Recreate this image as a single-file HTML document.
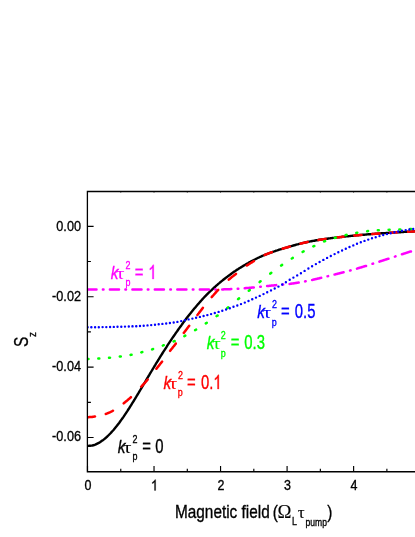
<!DOCTYPE html>
<html><head><meta charset="utf-8"><title>chart</title>
<style>html,body{margin:0;padding:0;background:#fff}svg{display:block}</style></head>
<body>
<svg width="415" height="537" viewBox="0 0 415 537">
<rect width="415" height="537" fill="#fff"/>
<defs><filter id="bl" x="-5%" y="-5%" width="110%" height="110%"><feGaussianBlur stdDeviation="0.5"/></filter></defs>
<g filter="url(#bl)">
<clipPath id="cp"><rect x="87.4" y="191" width="340" height="281"/></clipPath>
<g id="curves" clip-path="url(#cp)">
<path d="M86.3,446.0 L87.3,445.9 L88.3,445.9 L89.3,445.8 L90.3,445.7 L91.3,445.6 L92.3,445.5 L93.3,445.3 L94.3,445.0 L95.3,444.6 L96.3,444.1 L97.3,443.6 L98.3,443.1 L99.3,442.6 L100.3,442.0 L101.3,441.3 L102.3,440.6 L103.3,439.9 L104.3,439.1 L105.3,438.3 L106.3,437.4 L107.3,436.5 L108.3,435.5 L109.3,434.5 L110.3,433.5 L111.3,432.4 L112.3,431.3 L113.3,430.2 L114.3,429.0 L115.3,427.8 L116.3,426.6 L117.3,425.3 L118.3,424.0 L119.3,422.7 L120.3,421.3 L121.3,419.9 L122.3,418.5 L123.3,417.1 L124.3,415.6 L125.3,414.1 L126.3,412.6 L127.3,411.1 L128.3,409.5 L129.3,408.0 L130.3,406.4 L131.3,404.8 L132.3,403.2 L133.3,401.6 L134.3,400.0 L135.3,398.3 L136.3,396.7 L137.3,395.0 L138.3,393.4 L139.3,391.7 L140.3,390.0 L141.3,388.3 L142.3,386.7 L143.3,385.0 L144.3,383.3 L145.3,381.6 L146.3,379.9 L147.3,378.2 L148.3,376.5 L149.3,374.9 L150.3,373.2 L151.3,371.5 L152.3,369.8 L153.3,368.2 L154.3,366.5 L155.3,364.9 L156.3,363.2 L157.3,361.6 L158.3,360.0 L159.3,358.3 L160.3,356.7 L161.3,355.1 L162.3,353.5 L163.3,351.9 L164.3,350.4 L165.3,348.8 L166.3,347.3 L167.3,345.7 L168.3,344.2 L169.3,342.7 L170.3,341.2 L171.3,339.7 L172.3,338.2 L173.3,336.7 L174.3,335.3 L175.3,333.8 L176.3,332.4 L177.3,331.0 L178.3,329.5 L179.3,328.1 L180.3,326.7 L181.3,325.4 L182.3,324.0 L183.3,322.6 L184.3,321.3 L185.3,319.9 L186.3,318.6 L187.3,317.3 L188.3,316.0 L189.3,314.7 L190.3,313.5 L191.3,312.2 L192.3,311.0 L193.3,309.8 L194.3,308.6 L195.3,307.4 L196.3,306.2 L197.3,305.0 L198.3,303.9 L199.3,302.7 L200.3,301.6 L201.3,300.5 L202.3,299.4 L203.3,298.3 L204.3,297.2 L205.3,296.2 L206.3,295.1 L207.3,294.1 L208.3,293.1 L209.3,292.2 L210.3,291.2 L211.3,290.3 L212.3,289.3 L213.3,288.4 L214.3,287.5 L215.3,286.6 L216.3,285.7 L217.3,284.8 L218.3,283.9 L219.3,283.1 L220.3,282.2 L221.3,281.4 L222.3,280.6 L223.3,279.8 L224.3,279.0 L225.3,278.2 L226.3,277.4 L227.3,276.7 L228.3,275.9 L229.3,275.2 L230.3,274.5 L231.3,273.7 L232.3,273.0 L233.3,272.3 L234.3,271.6 L235.3,271.0 L236.3,270.3 L237.3,269.6 L238.3,269.0 L239.3,268.3 L240.3,267.7 L241.3,267.1 L242.3,266.5 L243.3,265.9 L244.3,265.3 L245.3,264.7 L246.3,264.1 L247.3,263.5 L248.3,263.0 L249.3,262.4 L250.3,261.9 L251.3,261.3 L252.3,260.8 L253.3,260.3 L254.3,259.8 L255.3,259.3 L256.3,258.7 L257.3,258.2 L258.3,257.7 L259.3,257.3 L260.3,256.8 L261.3,256.4 L262.3,255.9 L263.3,255.5 L264.3,255.1 L265.3,254.7 L266.3,254.3 L267.3,253.9 L268.3,253.5 L269.3,253.2 L270.3,252.8 L271.3,252.4 L272.3,252.1 L273.3,251.7 L274.3,251.4 L275.3,251.0 L276.3,250.7 L277.3,250.4 L278.3,250.0 L279.3,249.7 L280.3,249.4 L281.3,249.1 L282.3,248.8 L283.3,248.5 L284.3,248.2 L285.3,247.9 L286.3,247.6 L287.3,247.3 L288.3,247.0 L289.3,246.7 L290.3,246.4 L291.3,246.1 L292.3,245.8 L293.3,245.5 L294.3,245.3 L295.3,245.0 L296.3,244.7 L297.3,244.4 L298.3,244.2 L299.3,243.9 L300.3,243.6 L301.3,243.4 L302.3,243.2 L303.3,242.9 L304.3,242.7 L305.3,242.5 L306.3,242.3 L307.3,242.0 L308.3,241.8 L309.3,241.6 L310.3,241.4 L311.3,241.2 L312.3,241.0 L313.3,240.9 L314.3,240.7 L315.3,240.5 L316.3,240.3 L317.3,240.2 L318.3,240.0 L319.3,239.8 L320.3,239.7 L321.3,239.5 L322.3,239.4 L323.3,239.2 L324.3,239.1 L325.3,238.9 L326.3,238.8 L327.3,238.7 L328.3,238.5 L329.3,238.4 L330.3,238.3 L331.3,238.1 L332.3,238.0 L333.3,237.9 L334.3,237.8 L335.3,237.6 L336.3,237.5 L337.3,237.4 L338.3,237.3 L339.3,237.2 L340.3,237.1 L341.3,237.0 L342.3,236.8 L343.3,236.7 L344.3,236.6 L345.3,236.5 L346.3,236.4 L347.3,236.3 L348.3,236.2 L349.3,236.1 L350.3,236.0 L351.3,235.9 L352.3,235.8 L353.3,235.7 L354.3,235.6 L355.3,235.5 L356.3,235.4 L357.3,235.3 L358.3,235.2 L359.3,235.1 L360.3,235.0 L361.3,234.9 L362.3,234.8 L363.3,234.8 L364.3,234.7 L365.3,234.6 L366.3,234.5 L367.3,234.4 L368.3,234.3 L369.3,234.3 L370.3,234.2 L371.3,234.1 L372.3,234.0 L373.3,233.9 L374.3,233.9 L375.3,233.8 L376.3,233.7 L377.3,233.6 L378.3,233.6 L379.3,233.5 L380.3,233.4 L381.3,233.3 L382.3,233.3 L383.3,233.2 L384.3,233.1 L385.3,233.1 L386.3,233.0 L387.3,232.9 L388.3,232.9 L389.3,232.8 L390.3,232.8 L391.3,232.7 L392.3,232.6 L393.3,232.6 L394.3,232.5 L395.3,232.4 L396.3,232.4 L397.3,232.3 L398.3,232.3 L399.3,232.2 L400.3,232.2 L401.3,232.1 L402.3,232.0 L403.3,232.0 L404.3,231.9 L405.3,231.9 L406.3,231.8 L407.3,231.8 L408.3,231.7 L409.3,231.7 L410.3,231.6 L411.3,231.6 L412.3,231.5 L413.3,231.5 L414.3,231.4 L415.3,231.4 L416.3,231.3 L417.3,231.3 L418.3,231.3 L419.3,231.2 L420.3,231.2 L421.3,231.1" fill="none" stroke="#000" stroke-width="2.40" stroke-linejoin="round"/>
<path d="M87.5,289.6 L87.8,289.6 L88.3,289.6 L88.8,289.6 L89.3,289.6 L89.8,289.6 L90.3,289.6 L90.8,289.6 L91.3,289.6 L91.8,289.6 L92.3,289.6 L92.8,289.6 L93.3,289.6 L93.8,289.6 L94.3,289.6 L94.8,289.6 L95.3,289.6 L95.8,289.6 L96.3,289.6 L96.5,289.6 M102.9,289.6 L103.3,289.6 L103.5,289.6 M109.9,289.6 L110.3,289.6 L110.8,289.6 L111.3,289.6 L111.8,289.6 L112.3,289.6 L112.8,289.6 L113.3,289.6 L113.8,289.6 L114.3,289.6 L114.8,289.6 L115.3,289.6 L115.8,289.6 L116.3,289.6 L116.8,289.6 L117.3,289.6 L117.8,289.6 L118.3,289.6 L118.8,289.6 L119.0,289.6 M125.4,289.6 L125.8,289.6 L126.0,289.6 M132.4,289.6 L132.8,289.6 L133.3,289.6 L133.8,289.6 L134.3,289.6 L134.8,289.6 L135.3,289.6 L135.8,289.6 L136.3,289.6 L136.8,289.6 L137.3,289.6 L137.8,289.6 L138.3,289.6 L138.8,289.6 L139.3,289.6 L139.8,289.6 L140.3,289.6 L140.8,289.6 L141.3,289.6 L141.5,289.6 M147.8,289.6 L148.3,289.6 L148.4,289.6 M154.8,289.6 L155.3,289.6 L155.8,289.6 L156.3,289.6 L156.8,289.6 L157.3,289.6 L157.8,289.6 L158.3,289.6 L158.8,289.6 L159.3,289.6 L159.8,289.6 L160.3,289.6 L160.8,289.6 L161.3,289.6 L161.8,289.6 L162.3,289.6 L162.8,289.6 L163.3,289.6 L163.8,289.6 L163.9,289.6 M170.3,289.6 L170.8,289.6 L170.9,289.6 M177.3,289.6 L177.3,289.6 L177.8,289.6 L178.3,289.6 L178.8,289.6 L179.3,289.6 L179.8,289.6 L180.3,289.6 L180.8,289.6 L181.3,289.6 L181.8,289.6 L182.3,289.6 L182.8,289.6 L183.3,289.6 L183.8,289.6 L184.3,289.6 L184.8,289.6 L185.3,289.6 L185.8,289.6 L186.3,289.6 L186.4,289.6 M192.8,289.6 L192.8,289.6 L193.3,289.6 L193.4,289.6 M199.8,289.6 L199.8,289.6 L200.3,289.6 L200.8,289.6 L201.3,289.6 L201.8,289.6 L202.3,289.6 L202.8,289.6 L203.3,289.6 L203.8,289.6 L204.3,289.6 L204.8,289.6 L205.3,289.6 L205.8,289.6 L206.3,289.6 L206.8,289.6 L207.3,289.6 L207.8,289.6 L208.3,289.6 L208.8,289.6 L208.9,289.6 M215.2,289.5 L215.3,289.5 L215.8,289.5 L215.8,289.5 M222.2,289.4 L222.3,289.4 L222.8,289.4 L223.3,289.4 L223.8,289.3 L224.3,289.3 L224.8,289.3 L225.3,289.3 L225.8,289.3 L226.3,289.3 L226.8,289.3 L227.3,289.3 L227.8,289.2 L228.3,289.2 L228.8,289.2 L229.3,289.2 L229.8,289.2 L230.3,289.2 L230.8,289.1 L231.3,289.1 L231.3,289.1 M237.7,288.8 L237.8,288.8 L238.3,288.8 M244.7,288.2 L244.8,288.2 L245.3,288.2 L245.8,288.1 L246.3,288.1 L246.8,288.1 L247.3,288.0 L247.8,288.0 L248.3,287.9 L248.8,287.9 L249.3,287.8 L249.8,287.8 L250.3,287.7 L250.8,287.7 L251.3,287.7 L251.8,287.6 L252.3,287.6 L252.8,287.5 L253.3,287.5 L253.8,287.4 M260.2,286.8 L260.3,286.8 L260.8,286.7 M267.1,286.0 L267.3,286.0 L267.8,286.0 L268.3,285.9 L268.8,285.9 L269.3,285.8 L269.8,285.8 L270.3,285.7 L270.8,285.7 L271.3,285.6 L271.8,285.6 L272.3,285.5 L272.8,285.5 L273.3,285.4 L273.8,285.4 L274.3,285.3 L274.8,285.3 L275.3,285.2 L275.8,285.2 L276.2,285.1 M282.6,284.6 L282.8,284.5 L283.2,284.5 M289.6,283.9 L289.8,283.9 L290.3,283.8 L290.8,283.8 L291.3,283.7 L291.8,283.6 L292.3,283.6 L292.8,283.5 L293.3,283.4 L293.8,283.3 L294.3,283.2 L294.8,283.2 L295.3,283.1 L295.8,283.0 L296.3,282.9 L296.8,282.8 L297.3,282.8 L297.8,282.7 L298.3,282.6 L298.7,282.5 M305.1,281.4 L305.3,281.3 L305.7,281.2 M312.1,279.9 L312.3,279.9 L312.8,279.8 L313.3,279.7 L313.8,279.5 L314.3,279.4 L314.8,279.3 L315.3,279.2 L315.8,279.1 L316.3,279.0 L316.8,278.9 L317.3,278.7 L317.8,278.6 L318.3,278.5 L318.8,278.4 L319.3,278.3 L319.8,278.1 L320.3,278.0 L320.8,277.9 L321.2,277.8 M327.5,276.2 L327.8,276.2 L328.1,276.1 M334.5,274.5 L334.8,274.5 L335.3,274.3 L335.8,274.2 L336.3,274.1 L336.8,274.0 L337.3,273.8 L337.8,273.7 L338.3,273.6 L338.8,273.5 L339.3,273.3 L339.8,273.2 L340.3,273.1 L340.8,272.9 L341.3,272.8 L341.8,272.7 L342.3,272.6 L342.8,272.4 L343.3,272.3 L343.6,272.2 M350.0,270.5 L350.3,270.5 L350.6,270.4 M357.0,268.6 L357.3,268.5 L357.8,268.3 L358.3,268.2 L358.8,268.0 L359.3,267.9 L359.8,267.7 L360.3,267.6 L360.8,267.5 L361.3,267.3 L361.8,267.2 L362.3,267.0 L362.8,266.9 L363.3,266.7 L363.8,266.5 L364.3,266.4 L364.8,266.2 L365.3,266.1 L365.8,265.9 L366.1,265.9 M372.5,263.8 L372.8,263.7 L373.1,263.6 M379.4,261.6 L379.8,261.4 L380.3,261.3 L380.8,261.1 L381.3,261.0 L381.8,260.8 L382.3,260.7 L382.8,260.5 L383.3,260.3 L383.8,260.2 L384.3,260.0 L384.8,259.9 L385.3,259.7 L385.8,259.5 L386.3,259.4 L386.8,259.2 L387.3,259.1 L387.8,258.9 L388.3,258.7 L388.5,258.7 M394.9,256.6 L395.3,256.5 L395.5,256.4 M401.9,254.3 L402.3,254.2 L402.8,254.0 L403.3,253.9 L403.8,253.7 L404.3,253.5 L404.8,253.4 L405.3,253.2 L405.8,253.1 L406.3,252.9 L406.8,252.7 L407.3,252.6 L407.8,252.4 L408.3,252.2 L408.8,252.1 L409.3,251.9 L409.8,251.7 L410.3,251.6 L410.8,251.4 L411.0,251.4 M417.4,249.2 L417.8,249.1 L418.0,249.0" fill="none" stroke="#ff00ff" stroke-width="2.50" stroke-linecap="round" stroke-linejoin="round"/>
<path d="M87.8,417.2 L88.3,417.2 L88.8,417.2 L89.3,417.1 L89.8,417.1 L90.3,417.1 L90.8,417.0 L91.3,417.0 L91.8,416.9 L92.3,416.9 L92.8,416.8 L93.3,416.8 L93.8,416.7 L94.3,416.6 L94.8,416.6 L95.0,416.5 M105.8,413.9 L105.8,413.9 L106.3,413.8 L106.8,413.6 L107.3,413.4 L107.8,413.2 L108.3,413.0 L108.8,412.8 L109.3,412.5 L109.8,412.3 L110.3,412.1 L110.8,411.8 L111.3,411.6 L111.8,411.3 L112.3,411.1 L112.8,410.8 L113.0,410.7 M123.7,403.3 L123.8,403.2 L124.3,402.8 L124.8,402.4 L125.3,402.0 L125.8,401.6 L126.3,401.2 L126.8,400.8 L127.3,400.4 L127.8,399.9 L128.3,399.5 L128.8,399.1 L129.3,398.7 L129.8,398.2 L130.3,397.8 L130.8,397.3 L130.9,397.2 M141.2,386.7 L141.3,386.6 L141.8,386.1 L142.3,385.5 L142.8,385.0 L143.3,384.4 L143.8,383.9 L144.3,383.4 L144.8,382.8 L145.3,382.3 L145.8,381.7 L146.3,381.1 L146.8,380.6 L147.3,380.0 L147.7,379.5 M156.4,368.8 L156.8,368.2 L157.3,367.6 L157.8,367.0 L158.3,366.4 L158.8,365.7 L159.3,365.1 L159.8,364.5 L160.3,363.8 L160.8,363.2 L161.3,362.6 L161.8,361.9 L162.1,361.6 M170.1,350.8 L170.3,350.6 L170.8,349.9 L171.3,349.3 L171.8,348.7 L172.3,348.1 L172.8,347.4 L173.3,346.8 L173.8,346.2 L174.3,345.6 L174.8,344.9 L175.3,344.3 L175.8,343.7 L175.8,343.6 M183.8,332.9 L184.3,332.3 L184.8,331.6 L185.3,330.9 L185.8,330.2 L186.3,329.6 L186.8,328.9 L187.3,328.2 L187.8,327.6 L188.3,326.9 L188.8,326.3 L189.2,325.7 M197.4,315.0 L197.8,314.5 L198.3,313.8 L198.8,313.2 L199.3,312.5 L199.8,311.9 L200.3,311.2 L200.8,310.6 L201.3,309.9 L201.8,309.2 L202.3,308.6 L202.8,308.0 L202.9,307.8 M211.7,297.1 L211.8,297.0 L212.3,296.4 L212.8,295.8 L213.3,295.3 L213.8,294.7 L214.3,294.1 L214.8,293.6 L215.3,293.0 L215.8,292.5 L216.3,291.9 L216.8,291.4 L217.3,290.9 L217.8,290.3 L218.2,289.9 M228.8,279.6 L229.3,279.2 L229.8,278.8 L230.3,278.4 L230.8,277.9 L231.3,277.5 L231.8,277.1 L232.3,276.7 L232.8,276.3 L233.3,276.0 L233.8,275.6 L234.3,275.2 L234.8,274.8 L235.3,274.4 L235.8,274.0 L236.0,273.8 M246.7,265.6 L246.8,265.6 L247.3,265.2 L247.8,264.9 L248.3,264.6 L248.8,264.3 L249.3,264.0 L249.8,263.6 L250.3,263.3 L250.8,263.0 L251.3,262.7 L251.8,262.4 L252.3,262.1 L252.8,261.8 L253.3,261.5 L253.8,261.2 L253.9,261.1 M264.7,255.0 L264.8,254.9 L265.3,254.7 L265.8,254.5 L266.3,254.3 L266.8,254.1 L267.3,253.9 L267.8,253.7 L268.3,253.5 L268.8,253.3 L269.3,253.1 L269.8,252.9 L270.3,252.7 L270.8,252.6 L271.3,252.4 L271.8,252.2 L271.9,252.2 M282.6,248.7 L282.8,248.6 L283.3,248.5 L283.8,248.3 L284.3,248.2 L284.8,248.0 L285.3,247.9 L285.8,247.7 L286.3,247.6 L286.8,247.5 L287.3,247.3 L287.8,247.2 L288.3,247.0 L288.8,246.9 L289.3,246.7 L289.8,246.6 M300.5,243.6 L300.8,243.5 L301.3,243.4 L301.8,243.3 L302.3,243.2 L302.8,243.1 L303.3,242.9 L303.8,242.8 L304.3,242.7 L304.8,242.6 L305.3,242.5 L305.8,242.4 L306.3,242.3 L306.8,242.2 L307.3,242.0 L307.7,242.0 M318.4,240.0 L318.8,239.9 L319.3,239.8 L319.8,239.8 L320.3,239.7 L320.8,239.6 L321.3,239.5 L321.8,239.5 L322.3,239.4 L322.8,239.3 L323.3,239.2 L323.8,239.2 L324.3,239.1 L324.8,239.0 L325.3,238.9 L325.6,238.9 M336.3,237.5 L336.8,237.5 L337.3,237.4 L337.8,237.3 L338.3,237.3 L338.8,237.2 L339.3,237.2 L339.8,237.1 L340.3,237.1 L340.8,237.0 L341.3,237.0 L341.8,236.9 L342.3,236.8 L342.8,236.8 L343.3,236.7 L343.5,236.7 M354.3,235.6 L354.3,235.6 L354.8,235.5 L355.3,235.5 L355.8,235.4 L356.3,235.4 L356.8,235.3 L357.3,235.3 L357.8,235.3 L358.3,235.2 L358.8,235.2 L359.3,235.1 L359.8,235.1 L360.3,235.0 L360.8,235.0 L361.3,234.9 L361.5,234.9 M372.2,234.0 L372.3,234.0 L372.8,234.0 L373.3,233.9 L373.8,233.9 L374.3,233.9 L374.8,233.8 L375.3,233.8 L375.8,233.7 L376.3,233.7 L376.8,233.7 L377.3,233.6 L377.8,233.6 L378.3,233.6 L378.8,233.5 L379.3,233.5 L379.4,233.5 M390.1,232.8 L390.3,232.8 L390.8,232.7 L391.3,232.7 L391.8,232.7 L392.3,232.6 L392.8,232.6 L393.3,232.6 L393.8,232.5 L394.3,232.5 L394.8,232.5 L395.3,232.4 L395.8,232.4 L396.3,232.4 L396.8,232.4 L397.3,232.3 L397.3,232.3 M408.0,231.7 L408.3,231.7 L408.8,231.7 L409.3,231.7 L409.8,231.6 L410.3,231.6 L410.8,231.6 L411.3,231.6 L411.8,231.5 L412.3,231.5 L412.8,231.5 L413.3,231.5 L413.8,231.5 L414.3,231.4 L414.8,231.4 L415.2,231.4" fill="none" stroke="#ff0000" stroke-width="2.50" stroke-linecap="round" stroke-linejoin="round"/>
<path d="M87.5,359.1 L87.8,359.1 L88.3,359.1 L88.5,359.1 M98.3,358.6 L98.8,358.6 L99.3,358.6 M109.0,357.8 L109.3,357.8 L109.8,357.8 L110.0,357.7 M119.8,356.6 L120.3,356.5 L120.8,356.4 M130.6,354.9 L130.8,354.8 L131.3,354.7 L131.6,354.7 M141.3,352.4 L141.3,352.4 L141.8,352.2 L142.3,352.1 M152.1,349.4 L152.3,349.3 L152.8,349.1 L153.1,349.1 M162.8,345.6 L162.8,345.6 L163.3,345.4 L163.8,345.2 M173.6,341.4 L173.8,341.3 L174.3,341.1 L174.6,341.0 M184.3,336.2 L184.3,336.2 L184.8,335.9 L185.3,335.6 M195.1,330.1 L195.3,330.0 L195.8,329.7 L196.1,329.6 M205.8,323.4 L205.8,323.4 L206.3,323.1 L206.8,322.8 M216.6,316.2 L216.8,316.0 L217.3,315.6 L217.6,315.5 M227.3,308.1 L227.8,307.7 L228.3,307.3 M238.1,299.2 L238.3,299.0 L238.8,298.6 L239.1,298.4 M248.8,290.8 L249.3,290.4 L249.8,290.0 M259.6,282.1 L259.8,281.9 L260.3,281.4 L260.6,281.2 M270.3,273.6 L270.8,273.2 L271.3,272.8 M281.1,265.6 L281.3,265.4 L281.8,265.1 L282.1,264.9 M291.8,258.5 L292.3,258.2 L292.8,257.9 M302.6,251.9 L302.8,251.8 L303.3,251.5 L303.6,251.4 M313.3,246.4 L313.8,246.2 L314.3,246.0 M324.1,241.5 L324.3,241.4 L324.8,241.2 L325.1,241.1 M334.8,237.9 L335.3,237.8 L335.8,237.6 M345.6,235.2 L345.8,235.1 L346.3,235.0 L346.6,234.9 M356.3,232.9 L356.8,232.8 L357.3,232.7 M367.1,231.2 L367.3,231.2 L367.8,231.1 L368.1,231.1 M377.8,230.3 L378.3,230.3 L378.8,230.3 M388.6,229.8 L388.8,229.8 L389.3,229.7 L389.6,229.7 M399.3,229.4 L399.8,229.4 L400.3,229.4 M410.1,229.0 L410.3,229.0 L410.8,229.0 L411.1,229.0 M420.8,228.8 L421.3,228.8 L421.8,228.7" fill="none" stroke="#00ff00" stroke-width="2.50" stroke-linecap="round" stroke-linejoin="round"/>
<path d="M87.6,327.3 L87.6,327.3 M91.3,327.3 L91.4,327.3 M95.1,327.3 L95.1,327.3 M98.8,327.2 L98.8,327.2 M102.6,327.1 L102.6,327.1 M106.3,327.1 L106.3,327.1 M110.1,327.0 L110.1,327.0 M113.8,326.9 L113.8,326.9 L113.8,326.9 M117.5,326.8 L117.5,326.8 M121.3,326.7 L121.3,326.7 M125.0,326.6 L125.0,326.6 M128.8,326.5 L128.8,326.5 M132.5,326.4 L132.5,326.3 M136.2,326.2 L136.3,326.2 M140.0,326.0 L140.0,326.0 M143.7,325.7 L143.7,325.7 M147.5,325.4 L147.5,325.4 M151.2,325.1 L151.2,325.1 M155.0,324.7 L155.0,324.7 M158.7,324.3 L158.7,324.3 M162.4,323.9 L162.4,323.9 M166.2,323.5 L166.2,323.5 M169.9,323.0 L169.9,323.0 M173.7,322.5 L173.7,322.5 M177.4,321.9 L177.4,321.9 M181.2,321.1 L181.2,321.1 M184.9,320.2 L184.9,320.2 M188.6,319.4 L188.6,319.4 M192.4,318.6 L192.4,318.6 M196.1,317.8 L196.1,317.8 M199.9,316.9 L199.9,316.9 M203.6,316.0 L203.6,316.0 M207.3,315.1 L207.4,315.1 M211.1,314.1 L211.1,314.1 M214.8,313.0 L214.8,313.0 M218.6,311.9 L218.6,311.9 M222.3,310.8 L222.3,310.8 M226.1,309.5 L226.1,309.5 M229.8,308.2 L229.8,308.2 L229.8,308.2 M233.5,306.8 L233.5,306.8 M237.3,305.5 L237.3,305.4 M241.0,304.1 L241.0,304.1 M244.8,302.6 L244.8,302.6 M248.5,301.0 L248.5,301.0 M252.2,299.3 L252.3,299.3 M256.0,297.6 L256.0,297.6 M259.7,295.9 L259.7,295.9 M263.5,294.1 L263.5,294.1 M267.2,292.3 L267.2,292.3 M271.0,290.4 L271.0,290.4 M274.7,288.5 L274.7,288.5 M278.4,286.6 L278.5,286.6 M282.2,284.5 L282.2,284.5 M285.9,282.2 L285.9,282.2 M289.7,279.8 L289.7,279.8 M293.4,277.6 L293.4,277.6 M297.2,275.4 L297.2,275.4 M300.9,273.2 L300.9,273.2 M304.6,270.9 L304.6,270.9 M308.4,268.5 L308.4,268.5 M312.1,266.3 L312.1,266.3 M315.9,264.1 L315.9,264.1 M319.6,262.0 L319.6,262.0 M323.3,259.9 L323.4,259.9 M327.1,257.9 L327.1,257.9 M330.8,256.0 L330.8,256.0 M334.6,254.1 L334.6,254.1 M338.3,252.3 L338.3,252.3 M342.1,250.5 L342.1,250.5 M345.8,248.7 L345.8,248.7 L345.8,248.7 M349.5,247.0 L349.5,247.0 M353.3,245.4 L353.3,245.4 M357.0,243.8 L357.0,243.8 M360.8,242.3 L360.8,242.3 M364.5,240.9 L364.5,240.9 M368.2,239.6 L368.3,239.6 M372.0,238.3 L372.0,238.3 M375.7,237.2 L375.7,237.2 M379.5,236.1 L379.5,236.1 M383.2,235.0 L383.2,235.0 M387.0,234.1 L387.0,234.1 M390.7,233.2 L390.7,233.2 M394.4,232.3 L394.5,232.3 M398.2,231.5 L398.2,231.5 M401.9,230.8 L401.9,230.8 M405.7,230.1 L405.7,230.1 M409.4,229.5 L409.4,229.5 M413.2,229.0 L413.2,229.0 M416.9,228.5 L416.9,228.5 M420.6,228.1 L420.6,228.1" fill="none" stroke="#0000ff" stroke-width="2.40" stroke-linecap="round" stroke-linejoin="round"/>
</g>
<g id="axes">
<path d="M87.40,191.50 L420.15,191.50 L420.15,471.75 L87.40,471.75 Z" fill="none" stroke="#000" stroke-width="1.30"/>
<path d="M87.40,226.30 h6.2 M87.40,296.70 h6.2 M87.40,367.10 h6.2 M87.40,437.50 h6.2 M87.40,261.50 h3.5 M87.40,331.90 h3.5 M87.40,402.30 h3.5 M87.50,471.75 v-5.8 M154.03,471.75 v-5.8 M220.56,471.75 v-5.8 M287.09,471.75 v-5.8 M353.62,471.75 v-5.8 M420.15,471.75 v-5.8 M120.77,471.75 v-2.9 M187.30,471.75 v-2.9 M253.82,471.75 v-2.9 M320.36,471.75 v-2.9 M386.88,471.75 v-2.9" fill="none" stroke="#000" stroke-width="1.15"/>
<path d="M120.77,191.50 v1.3 M154.03,191.50 v1.3 M187.30,191.50 v1.3 M220.56,191.50 v1.3 M253.82,191.50 v1.3 M287.09,191.50 v1.3 M320.36,191.50 v1.3 M353.62,191.50 v1.3 M386.88,191.50 v1.3" fill="none" stroke="#000" stroke-width="1.0" stroke-opacity="0.6"/>
</g>
<g id="text">
<text transform="translate(81.00,231.00) scale(0.848,1)" font-family="'Liberation Sans', sans-serif" font-size="14.95" font-style="normal" text-anchor="end" fill="#000" stroke="#000" stroke-width="0.35">0.00</text>
<text transform="translate(81.00,301.00) scale(0.848,1)" font-family="'Liberation Sans', sans-serif" font-size="14.95" font-style="normal" text-anchor="end" fill="#000" stroke="#000" stroke-width="0.35">-0.02</text>
<text transform="translate(81.00,371.00) scale(0.848,1)" font-family="'Liberation Sans', sans-serif" font-size="14.95" font-style="normal" text-anchor="end" fill="#000" stroke="#000" stroke-width="0.35">-0.04</text>
<text transform="translate(81.00,441.00) scale(0.848,1)" font-family="'Liberation Sans', sans-serif" font-size="14.95" font-style="normal" text-anchor="end" fill="#000" stroke="#000" stroke-width="0.35">-0.06</text>
<text transform="translate(87.90,490.40) scale(0.835,1)" font-family="'Liberation Sans', sans-serif" font-size="14.95" font-style="normal" text-anchor="middle" fill="#000" stroke="#000" stroke-width="0.35">0</text>
<path transform="translate(150.96,490.40) scale(0.00610,-0.00730)" d="M763,0 H583 V1147 Q518,1085 412.5,1023 Q307,961 223,930 V1104 Q374,1175 487,1276 Q600,1377 647,1472 H763 Z" fill="#000" stroke="#000" stroke-width="47.9"/>
<text transform="translate(220.96,490.40) scale(0.835,1)" font-family="'Liberation Sans', sans-serif" font-size="14.95" font-style="normal" text-anchor="middle" fill="#000" stroke="#000" stroke-width="0.35">2</text>
<text transform="translate(287.49,490.40) scale(0.835,1)" font-family="'Liberation Sans', sans-serif" font-size="14.95" font-style="normal" text-anchor="middle" fill="#000" stroke="#000" stroke-width="0.35">3</text>
<text transform="translate(354.02,490.40) scale(0.835,1)" font-family="'Liberation Sans', sans-serif" font-size="14.95" font-style="normal" text-anchor="middle" fill="#000" stroke="#000" stroke-width="0.35">4</text>
<text transform="translate(175.00,518.00) scale(0.826,1)" font-family="'Liberation Sans', sans-serif" font-size="18.60" font-style="normal" text-anchor="start" fill="#000" stroke="#000" stroke-width="0.35">Magnetic field</text>
<text transform="translate(272.70,518.00) scale(0.826,1)" font-family="'Liberation Sans', sans-serif" font-size="18.60" font-style="normal" text-anchor="start" fill="#000" stroke="#000" stroke-width="0.35">(</text>
<text transform="translate(277.60,518.00) scale(1.030,1)" font-family="'Liberation Serif', sans-serif" font-size="18.23" font-style="normal" text-anchor="start" fill="#000" stroke="#000" stroke-width="0.10">Ω</text>
<text transform="translate(292.00,525.40) scale(0.820,1)" font-family="'Liberation Sans', sans-serif" font-size="10.90" font-style="normal" text-anchor="start" fill="#000" stroke="#000" stroke-width="0.35">L</text>
<text transform="translate(297.80,518.00) scale(1.000,1)" font-family="'Liberation Serif', sans-serif" font-size="17.11" font-style="normal" text-anchor="start" fill="#000" stroke="#000" stroke-width="0.12">τ</text>
<text transform="translate(305.60,525.50) scale(0.785,1)" font-family="'Liberation Sans', sans-serif" font-size="10.90" font-style="normal" text-anchor="start" fill="#000" stroke="#000" stroke-width="0.35">pump</text>
<text transform="translate(327.20,518.00) scale(0.826,1)" font-family="'Liberation Sans', sans-serif" font-size="18.60" font-style="normal" text-anchor="start" fill="#000" stroke="#000" stroke-width="0.35">)</text>
<text transform="translate(117.70,453.00) scale(0.820,1)" font-family="'Liberation Sans', sans-serif" font-size="18.80" font-style="italic" text-anchor="start" fill="#000" stroke="#000" stroke-width="0.35">k</text>
<text transform="translate(123.10,453.00) scale(1.200,1)" font-family="'Liberation Serif', sans-serif" font-size="17.73" font-style="normal" text-anchor="start" fill="#000" stroke="#000" stroke-width="0.00">τ</text>
<text transform="translate(132.60,443.00) scale(0.820,1)" font-family="'Liberation Sans', sans-serif" font-size="10.90" font-style="normal" text-anchor="start" fill="#000" stroke="#000" stroke-width="0.35">2</text>
<text transform="translate(132.40,460.00) scale(0.820,1)" font-family="'Liberation Sans', sans-serif" font-size="10.90" font-style="normal" text-anchor="start" fill="#000" stroke="#000" stroke-width="0.35">p</text>
<text transform="translate(142.30,453.00) scale(0.755,1)" font-family="'Liberation Sans', sans-serif" font-size="19.70" font-style="normal" text-anchor="start" fill="#000" stroke="#000" stroke-width="0.35">=</text>
<text transform="translate(155.20,453.00) scale(0.755,1)" font-family="'Liberation Sans', sans-serif" font-size="19.70" font-style="normal" text-anchor="start" fill="#000" stroke="#000" stroke-width="0.35">0</text>
<text transform="translate(110.70,279.00) scale(0.820,1)" font-family="'Liberation Sans', sans-serif" font-size="18.80" font-style="italic" text-anchor="start" fill="#ff00ff" stroke="#ff00ff" stroke-width="0.35">k</text>
<text transform="translate(116.10,279.00) scale(1.200,1)" font-family="'Liberation Serif', sans-serif" font-size="17.73" font-style="normal" text-anchor="start" fill="#ff00ff" stroke="#ff00ff" stroke-width="0.00">τ</text>
<text transform="translate(125.60,269.00) scale(0.820,1)" font-family="'Liberation Sans', sans-serif" font-size="10.90" font-style="normal" text-anchor="start" fill="#ff00ff" stroke="#ff00ff" stroke-width="0.35">2</text>
<text transform="translate(125.40,286.00) scale(0.820,1)" font-family="'Liberation Sans', sans-serif" font-size="10.90" font-style="normal" text-anchor="start" fill="#ff00ff" stroke="#ff00ff" stroke-width="0.35">p</text>
<text transform="translate(134.75,279.00) scale(0.755,1)" font-family="'Liberation Sans', sans-serif" font-size="19.70" font-style="normal" text-anchor="start" fill="#ff00ff" stroke="#ff00ff" stroke-width="0.35">=</text>
<path transform="translate(148.20,279.00) scale(0.00726,-0.00962)" d="M763,0 H583 V1147 Q518,1085 412.5,1023 Q307,961 223,930 V1104 Q374,1175 487,1276 Q600,1377 647,1472 H763 Z" fill="#ff00ff" stroke="#ff00ff" stroke-width="36.4"/>
<text transform="translate(257.30,318.00) scale(0.820,1)" font-family="'Liberation Sans', sans-serif" font-size="18.80" font-style="italic" text-anchor="start" fill="#0000ff" stroke="#0000ff" stroke-width="0.35">k</text>
<text transform="translate(262.70,318.00) scale(1.200,1)" font-family="'Liberation Serif', sans-serif" font-size="17.73" font-style="normal" text-anchor="start" fill="#0000ff" stroke="#0000ff" stroke-width="0.00">τ</text>
<text transform="translate(272.05,308.00) scale(0.820,1)" font-family="'Liberation Sans', sans-serif" font-size="10.90" font-style="normal" text-anchor="start" fill="#0000ff" stroke="#0000ff" stroke-width="0.35">2</text>
<text transform="translate(271.85,326.00) scale(0.820,1)" font-family="'Liberation Sans', sans-serif" font-size="10.90" font-style="normal" text-anchor="start" fill="#0000ff" stroke="#0000ff" stroke-width="0.35">p</text>
<text transform="translate(281.00,318.00) scale(0.755,1)" font-family="'Liberation Sans', sans-serif" font-size="19.70" font-style="normal" text-anchor="start" fill="#0000ff" stroke="#0000ff" stroke-width="0.35">=</text>
<text transform="translate(294.80,318.00) scale(0.755,1)" font-family="'Liberation Sans', sans-serif" font-size="19.70" font-style="normal" text-anchor="start" fill="#0000ff" stroke="#0000ff" stroke-width="0.35">0.5</text>
<text transform="translate(206.80,349.00) scale(0.820,1)" font-family="'Liberation Sans', sans-serif" font-size="18.80" font-style="italic" text-anchor="start" fill="#00ff00" stroke="#00ff00" stroke-width="0.35">k</text>
<text transform="translate(212.20,349.00) scale(1.200,1)" font-family="'Liberation Serif', sans-serif" font-size="17.73" font-style="normal" text-anchor="start" fill="#00ff00" stroke="#00ff00" stroke-width="0.00">τ</text>
<text transform="translate(220.85,339.00) scale(0.820,1)" font-family="'Liberation Sans', sans-serif" font-size="10.90" font-style="normal" text-anchor="start" fill="#00ff00" stroke="#00ff00" stroke-width="0.35">2</text>
<text transform="translate(220.65,357.00) scale(0.820,1)" font-family="'Liberation Sans', sans-serif" font-size="10.90" font-style="normal" text-anchor="start" fill="#00ff00" stroke="#00ff00" stroke-width="0.35">p</text>
<text transform="translate(230.85,349.00) scale(0.755,1)" font-family="'Liberation Sans', sans-serif" font-size="19.70" font-style="normal" text-anchor="start" fill="#00ff00" stroke="#00ff00" stroke-width="0.35">=</text>
<text transform="translate(244.30,349.00) scale(0.755,1)" font-family="'Liberation Sans', sans-serif" font-size="19.70" font-style="normal" text-anchor="start" fill="#00ff00" stroke="#00ff00" stroke-width="0.35">0.3</text>
<text transform="translate(163.40,389.00) scale(0.820,1)" font-family="'Liberation Sans', sans-serif" font-size="18.80" font-style="italic" text-anchor="start" fill="#ff0000" stroke="#ff0000" stroke-width="0.35">k</text>
<text transform="translate(168.80,389.00) scale(1.200,1)" font-family="'Liberation Serif', sans-serif" font-size="17.73" font-style="normal" text-anchor="start" fill="#ff0000" stroke="#ff0000" stroke-width="0.00">τ</text>
<text transform="translate(177.95,379.00) scale(0.820,1)" font-family="'Liberation Sans', sans-serif" font-size="10.90" font-style="normal" text-anchor="start" fill="#ff0000" stroke="#ff0000" stroke-width="0.35">2</text>
<text transform="translate(177.75,396.00) scale(0.820,1)" font-family="'Liberation Sans', sans-serif" font-size="10.90" font-style="normal" text-anchor="start" fill="#ff0000" stroke="#ff0000" stroke-width="0.35">p</text>
<text transform="translate(186.95,389.00) scale(0.755,1)" font-family="'Liberation Sans', sans-serif" font-size="19.70" font-style="normal" text-anchor="start" fill="#ff0000" stroke="#ff0000" stroke-width="0.35">=</text>
<text transform="translate(200.90,389.00) scale(0.755,1)" font-family="'Liberation Sans', sans-serif" font-size="19.70" font-style="normal" text-anchor="start" fill="#ff0000" stroke="#ff0000" stroke-width="0.35">0.</text>
<path transform="translate(213.30,389.00) scale(0.00726,-0.00962)" d="M763,0 H583 V1147 Q518,1085 412.5,1023 Q307,961 223,930 V1104 Q374,1175 487,1276 Q600,1377 647,1472 H763 Z" fill="#ff0000" stroke="#ff0000" stroke-width="36.4"/>
<text transform="translate(28.00,347.00) rotate(-90) scale(0.800,1)" font-family="'Liberation Sans', sans-serif" font-size="19.34" font-style="normal" text-anchor="start" fill="#000" stroke="#000" stroke-width="0.35">S</text>
<text transform="translate(35.80,337.00) rotate(-90) scale(0.880,1)" font-family="'Liberation Sans', sans-serif" font-size="11.23" font-style="normal" text-anchor="start" fill="#000" stroke="#000" stroke-width="0.35">z</text>
</g>
</g>
</svg>
</body></html>
